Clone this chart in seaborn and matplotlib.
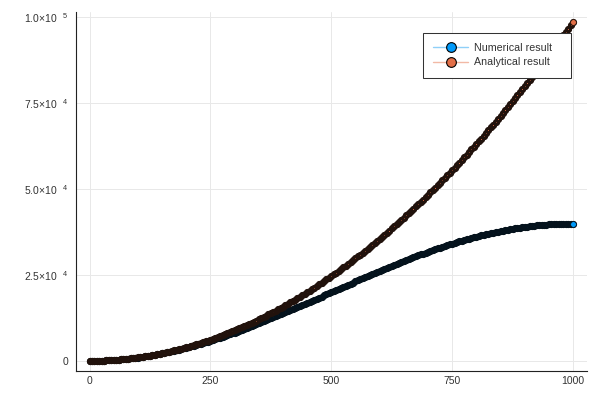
import numpy as np
import pandas as pd
import matplotlib
matplotlib.use('Agg')
import matplotlib.pyplot as plt
import seaborn as sns

# sample positions (every 5 steps)
x = np.arange(0, 1001, 5)

numerical = [
    0, 2, 10, 22, 39, 62, 89, 121, 158, 200,
    246, 298, 354, 416, 482, 553, 628, 709, 794, 884,
    979, 1078, 1182, 1291, 1405, 1522, 1645, 1772, 1904, 2040,
    2180, 2325, 2474, 2627, 2785, 2947, 3114, 3284, 3459, 3637,
    3820, 4006, 4197, 4392, 4590, 4792, 4998, 5208, 5421, 5638,
    5858, 6082, 6309, 6540, 6774, 7011, 7252, 7495, 7742, 7992,
    8244, 8500, 8758, 9020, 9283, 9550, 9819, 10091, 10365, 10641,
    10920, 11201, 11484, 11770, 12057, 12346, 12638, 12931, 13225, 13522,
    13820, 14119, 14420, 14723, 15026, 15331, 15637, 15944, 16252, 16561,
    16871, 17182, 17493, 17805, 18118, 18431, 18744, 19058, 19372, 19686,
    20000, 20314, 20628, 20942, 21256, 21569, 21882, 22195, 22507, 22818,
    23129, 23439, 23748, 24056, 24363, 24669, 24974, 25278, 25580, 25881,
    26180, 26478, 26775, 27070, 27363, 27654, 27943, 28230, 28516, 28799,
    29080, 29359, 29635, 29909, 30181, 30450, 30717, 30981, 31242, 31500,
    31756, 32008, 32258, 32505, 32748, 32989, 33226, 33460, 33691, 33918,
    34142, 34362, 34579, 34792, 35002, 35208, 35410, 35608, 35803, 35994,
    36180, 36363, 36541, 36716, 36886, 37053, 37215, 37373, 37526, 37675,
    37820, 37960, 38096, 38228, 38355, 38478, 38595, 38709, 38818, 38922,
    39021, 39116, 39206, 39291, 39372, 39447, 39518, 39584, 39646, 39702,
    39754, 39800, 39842, 39879, 39911, 39938, 39961, 39978, 39990, 39998,
    40000,
]

analytical = [
    0, 2, 10, 22, 39, 62, 89, 121, 158, 200,
    247, 299, 355, 417, 484, 555, 632, 713, 799, 891,
    987, 1088, 1194, 1305, 1421, 1542, 1668, 1799, 1935, 2075,
    2221, 2371, 2527, 2687, 2852, 3023, 3198, 3378, 3563, 3753,
    3948, 4148, 4353, 4562, 4777, 4997, 5221, 5451, 5685, 5924,
    6169, 6418, 6672, 6931, 7195, 7464, 7738, 8017, 8301, 8589,
    8883, 9182, 9485, 9794, 10107, 10425, 10748, 11077, 11410, 11748,
    12091, 12439, 12792, 13149, 13512, 13880, 14252, 14630, 15012, 15400,
    15792, 16189, 16592, 16999, 17411, 17828, 18250, 18676, 19108, 19545,
    19987, 20433, 20885, 21341, 21803, 22269, 22740, 23217, 23698, 24184,
    24675, 25171, 25672, 26178, 26688, 27204, 27725, 28250, 28781, 29316,
    29857, 30402, 30952, 31508, 32068, 32633, 33203, 33778, 34357, 34942,
    35532, 36127, 36726, 37331, 37940, 38555, 39174, 39798, 40428, 41062,
    41701, 42345, 42994, 43648, 44306, 44970, 45639, 46313, 46991, 47675,
    48363, 49056, 49755, 50458, 51166, 51879, 52597, 53320, 54048, 54781,
    55519, 56261, 57009, 57762, 58519, 59282, 60049, 60821, 61599, 62381,
    63168, 63960, 64757, 65559, 66366, 67178, 67994, 68816, 69643, 70474,
    71311, 72152, 72999, 73850, 74706, 75567, 76433, 77304, 78180, 79061,
    79947, 80838, 81733, 82634, 83540, 84450, 85366, 86286, 87211, 88142,
    89077, 90017, 90962, 91912, 92867, 93827, 94791, 95761, 96736, 97715,
    98700,
]

series_labels = ['Numerical result', 'Analytical result']
series_colors = ['#009AFA', '#E36F47']
light_colors = ['#8fd0f8', '#f2b9a5']
band_edge = ['#04121c', '#21120c']

xticks = [0, 250, 500, 750, 1000]
xtick_labels = ['0', '250', '500', '750', '1000']
yticks = [0, 25000, 50000, 75000, 100000]
ytick_labels = ['0', r'2.5×10$^{\ \ \ 4}$', r'5.0×10$^{\ \ \ 4}$',
                r'7.5×10$^{\ \ \ 4}$', r'1.0×10$^{\ \ \ 5}$']

sns.set_theme(style='white')
plt.rcParams['font.family'] = ['Liberation Sans', 'DejaVu Sans']
plt.rcParams['mathtext.fontset'] = 'custom'
plt.rcParams['mathtext.rm'] = 'Liberation Sans'
plt.rcParams['mathtext.it'] = 'Liberation Sans'

fig = plt.figure(figsize=(6, 4), dpi=100)
ax = fig.add_axes([0.1267, 0.0725, 0.8517, 0.8975])
ax.set_axisbelow(True)

for ys, lab, col, ec in zip([numerical, analytical], series_labels,
                            series_colors, band_edge):
    # dense markers merge into a dark band
    sns.lineplot(x=x, y=ys, color=col, lw=0.8, marker='o', markersize=3.0,
                 markeredgecolor=ec, markeredgewidth=2.2,
                 errorbar=None, label=lab, ax=ax)
    # last marker drawn on top shows its fill
    sns.scatterplot(x=x[-1:], y=ys[-1:], color=col, s=17, edgecolor=ec,
                    linewidth=0.5, legend=False, zorder=3, ax=ax)

ax.set_xlim(-28, 1029)
ax.set_ylim(-2950, 101600)
ax.set_xticks(xticks)
ax.set_xticklabels(xtick_labels)
ax.set_yticks(yticks)
ax.set_yticklabels(ytick_labels)

ax.grid(True, color='#e8e8e8', lw=0.7)
ax.tick_params(direction='in', length=3.5, width=0.75, color='#222222',
               labelcolor='#333333', labelsize=7.5)
ax.tick_params(axis='y', pad=5.8)
ax.tick_params(axis='x', pad=3.5)
sns.despine(ax=ax)
for s in ['left', 'bottom']:
    ax.spines[s].set_color('#222222')
    ax.spines[s].set_linewidth(0.8)

leg = ax.legend(loc='upper left', bbox_to_anchor=(0.679, 0.5, 0.2896, 0.4415),
                mode='expand', borderaxespad=0, frameon=True, fancybox=False,
                framealpha=1, edgecolor='#333333', fontsize=7.7,
                handlelength=3.3, handletextpad=0.5, borderpad=0.95,
                labelspacing=0.4)
leg.get_frame().set_linewidth(0.75)
for t in leg.get_texts():
    t.set_color('#333333')
for h, col, lc in zip(leg.legend_handles, series_colors, light_colors):
    h.set_color(lc)
    h.set_linewidth(1.0)
    h.set_markerfacecolor(col)
    h.set_markeredgecolor('black')
    h.set_markersize(7)
    h.set_markeredgewidth(0.8)

fig.savefig('out.png', dpi=100)
